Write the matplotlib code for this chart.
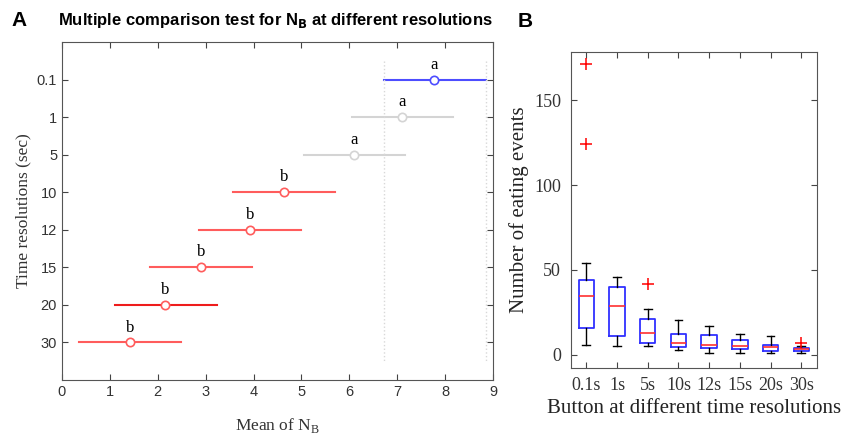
import matplotlib
matplotlib.use('Agg')
import matplotlib.pyplot as plt

# panel A: multiple comparison (means and intervals)
resolutions = ['0.1', '1', '5', '10', '12', '15', '20', '30']
means = [7.77, 7.11, 6.10, 4.63, 3.92, 2.91, 2.16, 1.42]
lower = [6.72, 6.05, 5.05, 3.58, 2.86, 1.84, 1.10, 0.36]
upper = [8.85, 8.17, 7.17, 5.70, 4.99, 3.97, 3.23, 2.49]
groups = ['a', 'a', 'a', 'b', 'b', 'b', 'b', 'b']
line_colors = ['#4d4dff', '#d4d4d4', '#d4d4d4', '#ff5c5c', '#ff5c5c',
               '#ff5c5c', '#ee1c1c', '#ff5c5c']
marker_colors = ['#4d4dff', '#d4d4d4', '#d4d4d4', '#ff5c5c', '#ff5c5c',
                 '#ff5c5c', '#ff5c5c', '#ff5c5c']

# panel B: box plots of eating events
box_labels = ['0.1s', '1s', '5s', '10s', '12s', '15s', '20s', '30s']
whis_lo = [5.8, 5.0, 5.4, 3.0, 1.0, 1.0, 1.0, 1.0]
q1 = [15.7, 11.3, 7.1, 4.4, 4.2, 3.4, 2.4, 2.2]
med = [34.9, 29.0, 13.1, 7.1, 5.8, 5.4, 4.4, 3.2]
q3 = [44.4, 39.7, 21.0, 12.1, 11.5, 8.5, 5.8, 4.2]
whis_hi = [54.0, 46.0, 27.2, 20.4, 16.9, 12.1, 11.1, 5.4]
fliers = [[171, 124], [], [41.9], [], [], [], [], [7.3]]

sans = 'Liberation Sans'
serif = 'Liberation Serif'

fig = plt.figure(figsize=(8.42, 4.36), dpi=100)

# ---- A ----
ax1 = fig.add_axes([0.0736, 0.1284, 0.5119, 0.7752])
ypos = list(range(1, len(resolutions) + 1))
for y, m, lo, hi, g, c, mc in zip(ypos, means, lower, upper, groups,
                                  line_colors, marker_colors):
    ax1.plot([lo, hi], [y, y], '-', color=c, lw=1.5)
    ax1.plot(m, y, 'o', mfc='white', mec=mc, ms=6, mew=1.2)
    ax1.annotate(g, (m, y), xytext=(0, 5), textcoords='offset points',
                 ha='center', va='bottom', fontsize=12, family=serif)
for xv in (lower[0], upper[0]):
    ax1.plot([xv, xv], [0.5, 8.5], ':', color='#d8d8d8', lw=1)
ax1.set_xlim(0, 9)
ax1.set_ylim(9, 0)
ax1.set_yticks(ypos)
ax1.set_yticklabels(resolutions)
ax1.set_xticks(range(10))
ax1.tick_params(direction='in', top=True, right=True, length=4,
                labelsize=10.5, colors='#444444', labelcolor='#333333')
for lab in ax1.get_xticklabels() + ax1.get_yticklabels():
    lab.set_family(sans)
for s in ax1.spines.values():
    s.set_color('#555555')
ax1.set_ylabel('Time resolutions (sec)', family=serif, fontsize=12.5, color='#333333')
ax1.set_xlabel('Mean of N$_\\mathregular{B}$', family=serif, fontsize=12.5,
               color='#333333', labelpad=12)
fig.text(0.327, 0.952, 'Multiple comparison test for N$_\\mathbf{B}$ at different resolutions',
         ha='center', va='center', fontsize=12, fontweight='bold', family=sans)
fig.text(0.014, 0.952, 'A', fontsize=15, fontweight='bold', family=sans, va='center')

# ---- B ----
ax2 = fig.add_axes([0.6781, 0.1567, 0.2918, 0.7248])
stats = []
for i in range(len(box_labels)):
    stats.append({'whislo': whis_lo[i], 'q1': q1[i], 'med': med[i], 'q3': q3[i],
                  'whishi': whis_hi[i], 'fliers': fliers[i], 'label': box_labels[i]})
ax2.bxp(stats, positions=range(1, 9), widths=0.5, showfliers=True,
        boxprops=dict(color='#3030ff', lw=1.3),
        medianprops=dict(color='#ff3030', lw=1.2),
        whiskerprops=dict(color='black', lw=1),
        capprops=dict(color='black', lw=1),
        capwidths=0.25,
        flierprops=dict(marker='+', markeredgecolor='red', ms=8, mew=1.1))
ax2.set_xlim(0.5, 8.5)
ax2.set_ylim(-7.5, 178.5)
ax2.set_yticks([0, 50, 100, 150])
ax2.tick_params(direction='in', top=True, right=True, length=4,
                labelsize=13, colors='#444444', labelcolor='#333333', pad=7)
for lab in ax2.get_xticklabels() + ax2.get_yticklabels():
    lab.set_family(serif)
for s in ax2.spines.values():
    s.set_color('#555555')
ax2.set_ylabel('Number of eating events', family=serif, fontsize=15, color='#222222',
               labelpad=4)
ax2.set_xlabel('Button at different time resolutions', family=serif, fontsize=15,
               color='#222222', labelpad=3)
fig.text(0.615, 0.95, 'B', fontsize=15, fontweight='bold', family=sans, va='center')

fig.savefig('out.png', dpi=100)
